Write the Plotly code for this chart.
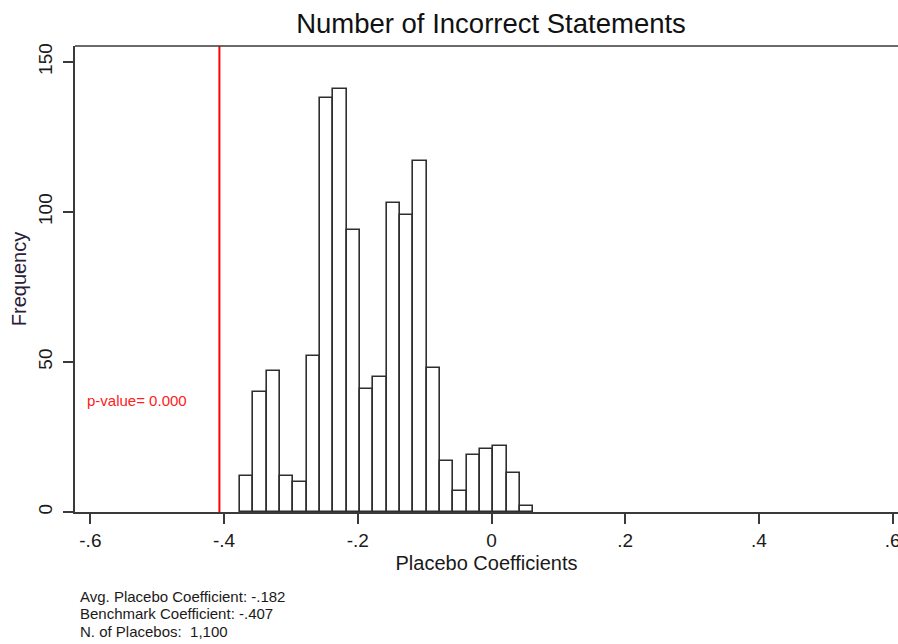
import plotly.graph_objects as go

# ---- data ----
bin_start = -0.3761
bin_width = 0.01994
counts = [12, 40, 47, 12, 10, 52, 138, 141, 94, 41, 45,
          103, 99, 117, 48, 17, 7, 19, 21, 22, 13, 2]
bin_centers = [round(bin_start + (i + 0.5) * bin_width, 4) for i in range(len(counts))]

benchmark = -0.407
x_ticks = [-0.6, -0.4, -0.2, 0.0, 0.2, 0.4, 0.6]
x_tick_text = ["-.6", "-.4", "-.2", "0", ".2", ".4", ".6"]
y_ticks = [0, 50, 100, 150]
y_tick_text = ["0", "50", "100", "150"]
notes = ["Avg. Placebo Coefficient: -.182",
         "Benchmark Coefficient: -.407",
         "N. of Placebos:  1,100"]
pvalue_text = "p-value= 0.000"

FONT = "Liberation Sans, Arial, sans-serif"
W, H = 898, 644
ML, MR, MT, MB = 75, 0, 46, 132
plot_h = H - MT - MB

fig = go.Figure()
fig.add_trace(go.Bar(
    x=bin_centers, y=counts, width=bin_width,
    marker=dict(color="white", line=dict(color="#2e2e2e", width=1.6)),
    showlegend=False, hoverinfo="x+y",
))

# benchmark line
fig.add_shape(type="line", xref="x", yref="paper", x0=benchmark, x1=benchmark,
              y0=0, y1=1, line=dict(color="#ff0000", width=2))
# top border only
fig.add_shape(type="line", xref="paper", yref="paper", x0=0, x1=1, y0=1, y1=1,
              line=dict(color="#3a3a3a", width=1.5))

fig.add_annotation(x=-0.6085, y=37.3, xref="x", yref="y", text=pvalue_text,
                   showarrow=False, xanchor="left", yanchor="middle",
                   font=dict(family=FONT, size=15, color="#ff2020"))

note_centers_px = [596, 613.5, 631]
for txt, py in zip(notes, note_centers_px):
    fig.add_annotation(x=(78 - ML) / (W - ML - MR), y=(H - MB - py) / plot_h,
                       xref="paper", yref="paper", text=txt, showarrow=False,
                       xanchor="left", yanchor="middle",
                       font=dict(family=FONT, size=15, color="#1a1a1a"))

fig.update_layout(
    width=W, height=H,
    margin=dict(l=ML, r=MR, t=MT, b=MB, pad=0, autoexpand=False),
    paper_bgcolor="white", plot_bgcolor="white",
    bargap=0,
    title=dict(text="Number of Incorrect Statements", x=491 / W, xanchor="center",
               y=1 - 23 / H, yanchor="middle",
               font=dict(family=FONT, size=27.5, color="#111")),
    xaxis=dict(range=[-0.623, 0.608], tickvals=x_ticks, ticktext=x_tick_text,
               automargin=False, ticklabeloverflow="allow",
               showgrid=False, zeroline=False, showline=True, linecolor="#3a3a3a",
               linewidth=1.5, ticks="outside", ticklen=10, tickwidth=1.5,
               tickcolor="#3a3a3a",
               tickfont=dict(family=FONT, size=19, color="#1a1a1a"),
               title=dict(text="Placebo Coefficients", standoff=6,
                          font=dict(family=FONT, size=20, color="#1a1a1a"))),
    yaxis=dict(range=[0, 155.3], tickvals=y_ticks, ticktext=y_tick_text,
               automargin=False, ticklabelstandoff=4,
               showgrid=False, zeroline=False, showline=True, linecolor="#3a3a3a",
               linewidth=1.5, ticks="outside", ticklen=10, tickwidth=1.5,
               tickcolor="#3a3a3a", tickangle=-90,
               tickfont=dict(family=FONT, size=19, color="#1a1a1a"),
               title=dict(text="Frequency", standoff=3,
                          font=dict(family=FONT, size=20, color="#2a2038"))),
)

fig.write_html("out.html", config={"displayModeBar": False},
               post_script="document.body.style.margin='0';document.body.style.overflow='hidden';")
